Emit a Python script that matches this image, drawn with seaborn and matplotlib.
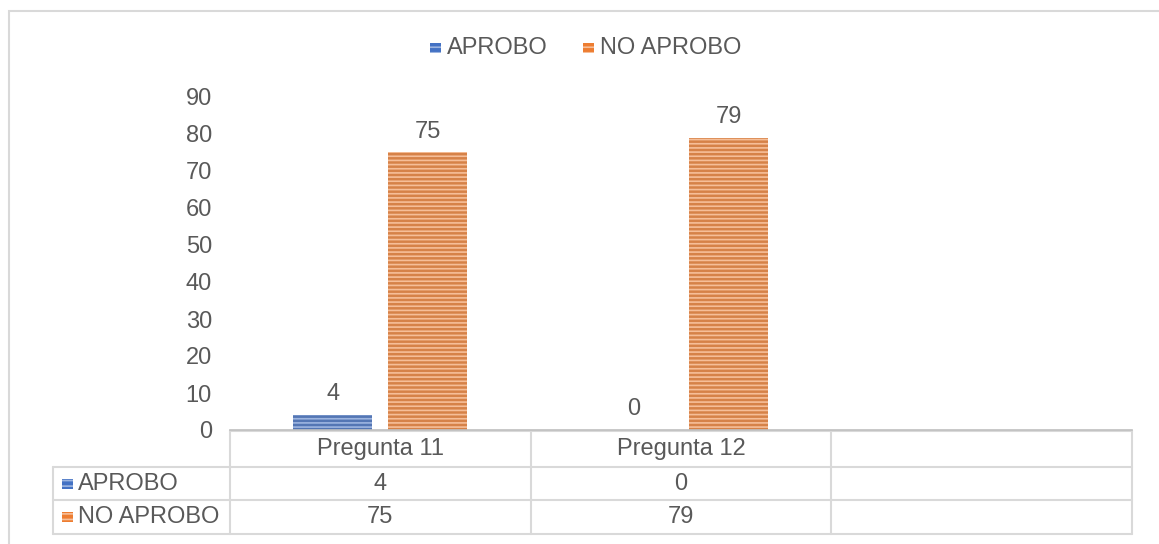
import matplotlib
matplotlib.use("Agg")
import matplotlib.pyplot as plt
import matplotlib.transforms as mtrans
from matplotlib.patches import Rectangle
from matplotlib.lines import Line2D
import seaborn as sns
import pandas as pd

categories = ["Pregunta 11", "Pregunta 12", ""]
series = ["APROBO", "NO APROBO"]
aprobo = [4, 0, None]
no_aprobo = [75, 79, None]
colors = ["#4472C4", "#ED7D31"]
hatch_colors = ["#9DB5E0", "#F6BE98"]

sns.set_theme(style="white")
plt.rcParams["font.family"] = ["Liberation Sans", "DejaVu Sans"]
plt.rcParams["hatch.linewidth"] = 1.2

rows = []
for c, a, n in zip(categories, aprobo, no_aprobo):
    rows.append({"cat": c, "serie": series[0], "val": a})
    rows.append({"cat": c, "serie": series[1], "val": n})
df = pd.DataFrame(rows)

W, H = 1159, 544
fig = plt.figure(figsize=(W / 100, H / 100), dpi=100)
ax_l, ax_r, ax_t, ax_b = 230, 1132, 97, 430
ax = fig.add_axes([ax_l / W, 1 - ax_b / H, (ax_r - ax_l) / W, (ax_b - ax_t) / H])

sns.barplot(data=df, x="cat", y="val", hue="serie", order=categories,
            hue_order=series, palette=colors, width=0.632, gap=0.168,
            ax=ax, legend=False, linewidth=0)

gray_txt = "#595959"
line_c = "#D9D9D9"
fs = 17

# hatch stripes and value labels
for i, cont in enumerate(ax.containers):
    for bar in cont:
        if bar is None:
            continue
        bar.set_hatch("----")
        bar.set_edgecolor(hatch_colors[i])
        bar.set_linewidth(0)
        h = bar.get_height()
        if h != h:
            continue
        ax.annotate(f"{h:g}", (bar.get_x() + bar.get_width() / 2, h),
                    xytext=(0, 7), textcoords="offset points", ha="center",
                    va="bottom", fontsize=fs, color=gray_txt)

ax.set_xlim(-0.5, 2.5)
ax.set_ylim(0, 90)
ax.set_yticks(range(0, 91, 10))
ax.tick_params(axis="y", labelsize=fs, labelcolor=gray_txt, length=0, pad=13)
ax.set_xticks([])
ax.set_xlabel("")
ax.set_ylabel("")
for s in ["top", "right", "left"]:
    ax.spines[s].set_visible(False)
ax.spines["bottom"].set_color("#BFBFBF")
ax.spines["bottom"].set_linewidth(1.2)

# data table
tr = mtrans.blended_transform_factory(ax.transData, ax.transAxes)
ah = ax_b - ax_t
def yf(px):
    return -(px - ax_b) / ah
px_per_unit = (ax_r - ax_l) / 3
x_left = -0.5 - (ax_l - 53) / px_per_unit
y_rows = [430, 467, 500, 534]
lkw = dict(color=line_c, lw=1.5, transform=tr, clip_on=False)
ax.add_line(Line2D([-0.5, 2.5], [yf(431), yf(431)], **lkw))
for yy in y_rows[1:]:
    ax.add_line(Line2D([x_left, 2.5], [yf(yy), yf(yy)], **lkw))
for xx in [-0.5, 0.5, 1.5, 2.5]:
    ax.add_line(Line2D([xx, xx], [yf(431), yf(534)], **lkw))
ax.add_line(Line2D([x_left, x_left], [yf(467), yf(534)], **lkw))

for j, c in enumerate(categories):
    ax.text(j, yf((430 + 467) / 2 + 1), c, transform=tr, ha="center", va="center",
            fontsize=fs, color=gray_txt, clip_on=False)
    for i, vals in enumerate([aprobo, no_aprobo]):
        v = vals[j]
        if v is not None:
            ax.text(j, yf((y_rows[i + 1] + y_rows[i + 2]) / 2), f"{v:g}", transform=tr,
                    ha="center", va="center", fontsize=fs, color=gray_txt, clip_on=False)

# row headers with swatches
for i, name in enumerate(series):
    ymid = (y_rows[i + 1] + y_rows[i + 2]) / 2
    fig.patches.append(Rectangle((62 / W, 1 - (ymid + 5) / H), 11 / W, 10 / H,
                                 transform=fig.transFigure, facecolor=colors[i],
                                 edgecolor=hatch_colors[i], hatch="---", lw=0))
    fig.text(78 / W, 1 - ymid / H, name, ha="left", va="center",
             fontsize=fs, color=gray_txt)

# top legend
leg_y = 48
items = [(430, 447, series[0]), (583, 600, series[1])]
for i, (sx, tx, name) in enumerate(items):
    fig.patches.append(Rectangle((sx / W, 1 - (leg_y + 5) / H), 11 / W, 10 / H,
                                 transform=fig.transFigure, facecolor=colors[i],
                                 edgecolor=hatch_colors[i], hatch="---", lw=0))
    fig.text(tx / W, 1 - leg_y / H, name, ha="left", va="center",
             fontsize=fs, color=gray_txt)

# outer chart border
fig.patches.append(Rectangle((9 / W, -0.05), 1.2, 1 - 11 / H + 0.05,
                             transform=fig.transFigure, fill=False,
                             edgecolor=line_c, lw=1.5))

fig.savefig("out.png", dpi=100)
